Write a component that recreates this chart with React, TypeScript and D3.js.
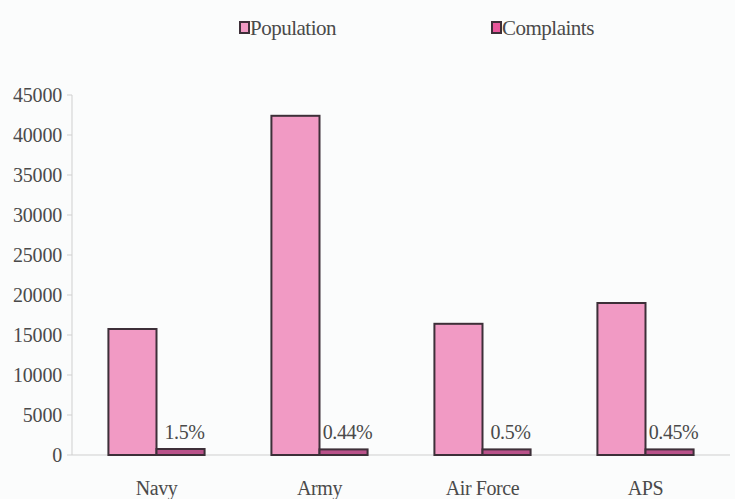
import React from "react";
import * as d3 from "d3";

const categories = ["Navy", "Army", "Air Force", "APS"];
const series = ["Population", "Complaints"];
const population = [15750, 42400, 16400, 19000];
const complaints = [750, 700, 700, 700];
const complaintLabels = ["1.5%", "0.44%", "0.5%", "0.45%"];
const yTicks = [0, 5000, 10000, 15000, 20000, 25000, 30000, 35000, 40000, 45000];

const W = 735;
const H = 499;
const FONT = "'Liberation Serif', 'DejaVu Serif', serif";
const TEXT = "#4a4a4a";
const popFill = "#f19ac4";
const compFill = "#b9528a";
const stroke = "#3d2f38";

export default function App() {
  const x = d3.scaleBand<string>().domain(categories).range([75, 727]).paddingInner(0.41).paddingOuter(0.205);
  const xs = d3.scaleBand<string>().domain(series).range([0, x.bandwidth()]);
  const y = d3.scaleLinear().domain([0, 45000]).range([455, 95]);
  const legendX = [239, 491];

  return (
    <svg width={W} height={H} style={{ position: "absolute", left: 0, top: 0, background: "#fbfcfc" }} fontFamily={FONT}>
      {/* legend */}
      {series.map((s, i) => (
        <g key={s} transform={`translate(${legendX[i]},0)`}>
          <rect x={1} y={22} width={9} height={11} fill={i === 0 ? popFill : "#e8579b"} stroke={stroke} strokeWidth={2} />
          <text x={11} y={35} fontSize={21} fill={TEXT} letterSpacing={-0.5}>{s}</text>
        </g>
      ))}
      {/* y axis */}
      <line x1={72} x2={72} y1={y(45000)} y2={y(0)} stroke="#cfcfcf" strokeWidth={1} />
      {yTicks.map((t) => (
        <g key={t}>
          <line x1={67} x2={72} y1={y(t)} y2={y(t)} stroke="#cfcfcf" />
          <text x={62} y={y(t) + 7} textAnchor="end" fontSize={20} fill={TEXT} letterSpacing={-0.2}>{t}</text>
        </g>
      ))}
      {/* x axis */}
      <line x1={72} x2={730} y1={y(0)} y2={y(0)} stroke="#cfcfcf" strokeWidth={1} />
      {/* bars */}
      {categories.map((c, i) => {
        const x0 = x(c) as number;
        const px = x0 + (xs("Population") as number);
        const cx = x0 + (xs("Complaints") as number);
        return (
          <g key={c}>
            <rect x={px} y={y(population[i])} width={xs.bandwidth()} height={y(0) - y(population[i])} fill={popFill} stroke={stroke} strokeWidth={2} />
            <rect x={cx} y={y(complaints[i])} width={xs.bandwidth()} height={y(0) - y(complaints[i])} fill={compFill} stroke={stroke} strokeWidth={2} />
            <text x={cx + xs.bandwidth() / 2 + 4} y={y(complaints[i]) - 10} textAnchor="middle" fontSize={20} fill={TEXT} letterSpacing={-0.4}>{complaintLabels[i]}</text>
            <text x={x0 + x.bandwidth() / 2} y={495} textAnchor="middle" fontSize={20} fill={TEXT} letterSpacing={-0.4}>{c}</text>
          </g>
        );
      })}
    </svg>
  );
}
